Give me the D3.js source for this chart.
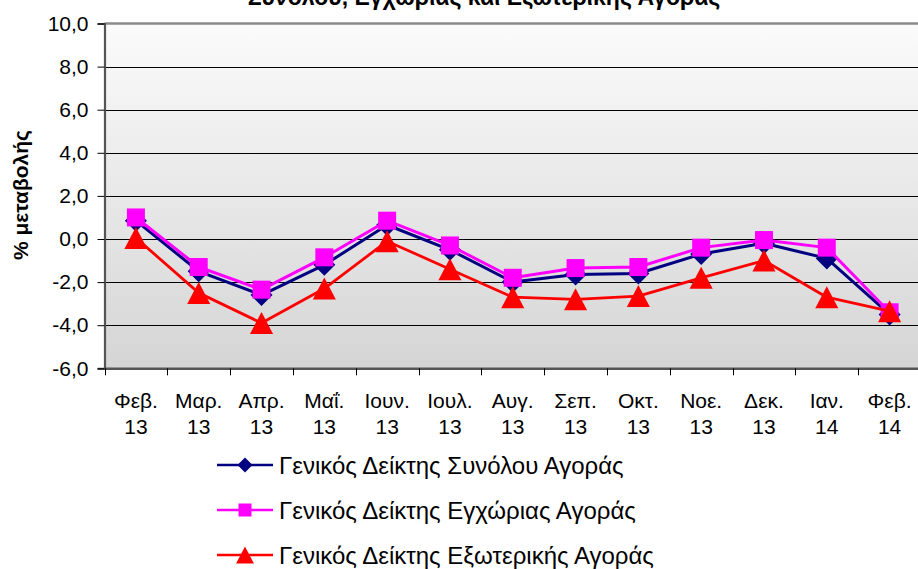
<!DOCTYPE html>
<html><head><meta charset="utf-8">
<script src="https://cdn.jsdelivr.net/npm/d3@7"></script>
<style>html,body{margin:0;padding:0;background:#fff;overflow:hidden}svg{display:block}</style>
</head><body>
<svg id="chart" width="918" height="569"></svg>
<script>
const months = ["Φεβ.","Μαρ.","Απρ.","Μαΐ.","Ιουν.","Ιουλ.","Αυγ.","Σεπ.","Οκτ.","Νοε.","Δεκ.","Ιαν.","Φεβ."];
const years  = ["13","13","13","13","13","13","13","13","13","13","13","14","14"];
const categories = months.map((m,i)=>m+" "+years[i]);
const totalMarket    = [0.85,-1.5,-2.6,-1.2,0.65,-0.5,-2.0,-1.65,-1.6,-0.7,-0.2,-0.9,-3.5];
const domesticMarket = [1.0,-1.3,-2.35,-0.85,0.85,-0.3,-1.8,-1.35,-1.3,-0.4,-0.05,-0.4,-3.4];
const externalMarket = [0.05,-2.5,-3.9,-2.3,-0.1,-1.4,-2.7,-2.8,-2.65,-1.8,-1.0,-2.7,-3.35];
const yTicks = [10,8,6,4,2,0,-2,-4,-6];
const seriesNames = ["Γενικός Δείκτης Συνόλου Αγοράς","Γενικός Δείκτης Εγχώριας Αγοράς","Γενικός Δείκτης Εξωτερικής Αγοράς"];
const titleText = "Συνόλου, Εγχώριας και Εξωτερικής Αγοράς";
const yLabel = "% μεταβολής";

const svg = d3.select("#chart");
const L = 104.5, R = 921, T = 23.5, B = 368.3;
const x = d3.scaleBand().domain(categories).range([L, R]).padding(0);
const y = d3.scaleLinear().domain([-6, 10]).range([B, T]);
const font = "'Liberation Sans', Arial, sans-serif";

const defs = svg.append("defs");
const grad = defs.append("linearGradient").attr("id","bg").attr("x1",0).attr("y1",0).attr("x2",0).attr("y2",1);
grad.append("stop").attr("offset","0%").attr("stop-color","#fbfbfb");
grad.append("stop").attr("offset","100%").attr("stop-color","#d5d5d5");

svg.append("rect").attr("x",L).attr("y",T).attr("width",R-L).attr("height",B-T).attr("fill","url(#bg)");

// gridlines
svg.append("g").selectAll("line").data(yTicks.filter(v=>v>-6 && v<10)).join("line")
  .attr("x1",L).attr("x2",R).attr("y1",d=>Math.round(y(d))+0.5).attr("y2",d=>Math.round(y(d))+0.5)
  .attr("stroke","#000").attr("stroke-width",1);
// top border
svg.append("line").attr("x1",L).attr("x2",R).attr("y1",y(10)).attr("y2",y(10)).attr("stroke","#8a8a8a").attr("stroke-width",2.5);

// y axis
const yAxis = d3.axisLeft(y).tickValues(yTicks).tickSize(7).tickPadding(9)
  .tickFormat(d=>d3.format(".1f")(d).replace(".",",").replace("\u2212","-"));
const gy = svg.append("g").attr("transform",`translate(${L},0)`).call(yAxis);
gy.select(".domain").attr("stroke","#555").attr("stroke-width",2.2);
gy.selectAll(".tick line").attr("stroke","#000");
gy.selectAll("text").attr("font-family",font).attr("font-size",21).attr("fill","#000");

// x axis
const xAxis = d3.axisBottom(x).tickSize(0).tickFormat("");
const gx = svg.append("g").attr("transform",`translate(0,${B})`).call(xAxis);
gx.select(".domain").attr("stroke","#555").attr("stroke-width",2.5);
// category boundary ticks
svg.append("g").selectAll("line").data(categories).join("line")
  .attr("x1",d=>Math.round(x(d))+0.5).attr("x2",d=>Math.round(x(d))+0.5)
  .attr("y1",B).attr("y2",B+7).attr("stroke","#000");
const xl = svg.append("g").selectAll("text").data(categories).join("text")
  .attr("font-family",font).attr("font-size",21).attr("text-anchor","middle").attr("fill","#000");
xl.append("tspan").attr("x",d=>x(d)+x.bandwidth()/2).attr("y",408).text((d,i)=>months[i]);
xl.append("tspan").attr("x",d=>x(d)+x.bandwidth()/2).attr("y",434).text((d,i)=>years[i]);

// title (cut off at top, as in the reference)
svg.append("text").attr("x",484).attr("y",5).attr("text-anchor","middle").attr("font-family",font)
  .attr("font-weight","bold").attr("font-size",23).text(titleText);
// y label
svg.append("text").attr("transform","translate(28,195) rotate(-90)").attr("text-anchor","middle")
  .attr("font-family",font).attr("font-weight","bold").attr("font-size",21).text(yLabel);

// markers
const diamond = {draw(ctx,size){const r=Math.sqrt(size)/2;ctx.moveTo(0,-r);ctx.lineTo(r,0);ctx.lineTo(0,r);ctx.lineTo(-r,0);ctx.closePath();}};
const square = {draw(ctx,size){const r=Math.sqrt(size)/2;ctx.rect(-r,-r,2*r,2*r);}};
const triangle = {draw(ctx,size){const r=Math.sqrt(size)/2;ctx.moveTo(0,-r);ctx.lineTo(r*1.05,r);ctx.lineTo(-r*1.05,r);ctx.closePath();}};

const series = [
  {name:seriesNames[0], values:totalMarket, color:"#000080", sym:diamond, size:22*22, lsize:15*15, lw:3},
  {name:seriesNames[1], values:domesticMarket, color:"#ff00ff", sym:square, size:18*18, lsize:13*13, lw:3},
  {name:seriesNames[2], values:externalMarket, color:"#ff0000", sym:triangle, size:22*22, lsize:17*17, lw:2.8}
];
const line = d3.line().x((d,i)=>x(categories[i])+x.bandwidth()/2).y(d=>y(d));
series.forEach(s=>{
  const g = svg.append("g");
  g.append("path").attr("d",line(s.values)).attr("fill","none").attr("stroke",s.color).attr("stroke-width",s.lw).attr("stroke-linejoin","round");
  g.selectAll("path.m").data(s.values).join("path").attr("class","m")
    .attr("transform",(d,i)=>`translate(${x(categories[i])+x.bandwidth()/2},${y(d)})`)
    .attr("d",d3.symbol(s.sym,s.size)).attr("fill",s.color);
});

// legend
const legY = [465, 510, 555];
series.forEach((s,i)=>{
  const g = svg.append("g").attr("transform",`translate(0,${legY[i]})`);
  g.append("line").attr("x1",217).attr("x2",273).attr("y1",0).attr("y2",0).attr("stroke",s.color).attr("stroke-width",2.5);
  g.append("path").attr("transform","translate(245,0)").attr("d",d3.symbol(s.sym,s.lsize)).attr("fill",s.color);
  g.append("text").attr("x",279).attr("y",8.5).attr("font-family",font).attr("font-size",24).text(s.name);
});
</script>
</body></html>
